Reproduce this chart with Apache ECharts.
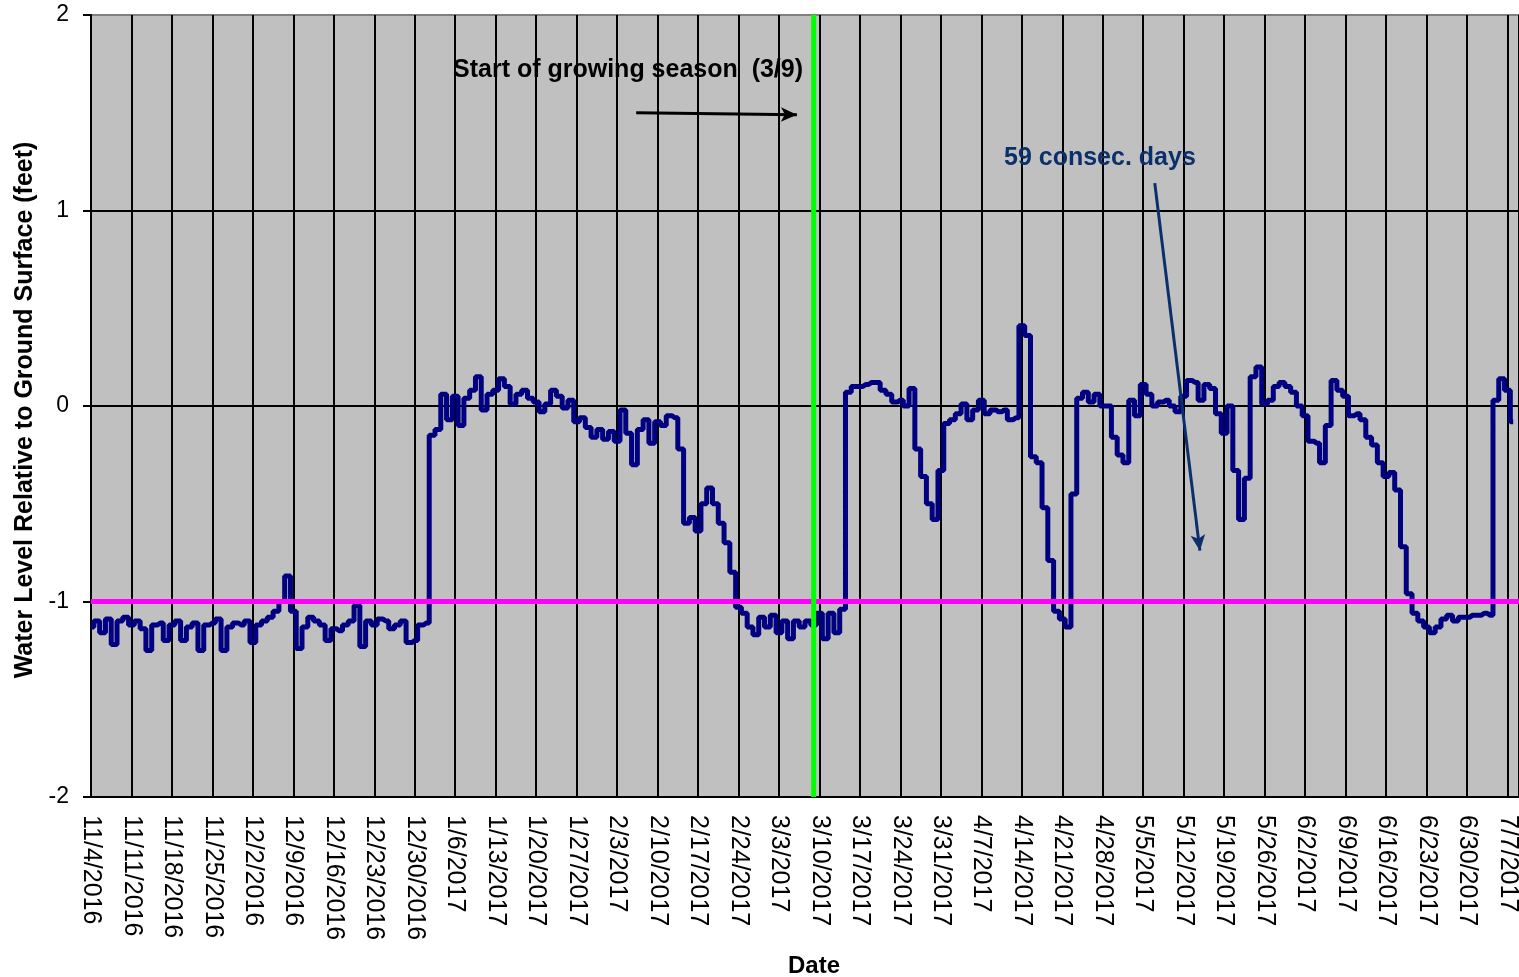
<!DOCTYPE html>
<html lang="en">
<head>
    <meta charset="UTF-8">
    <title>Water level chart</title>
    <style>
        html, body { margin: 0; padding: 0; background: #fff; }
        #main { width: 1519px; height: 977px; }
    </style>
</head>
<body>
<div id="main"></div>
<script src="https://cdn.jsdelivr.net/npm/echarts@6/dist/echarts.min.js"></script>
<script>
// x = days since 11/4/2016, one reading per day
var dateLabels = ['11/4/2016', '11/11/2016', '11/18/2016', '11/25/2016', '12/2/2016', '12/9/2016',
    '12/16/2016', '12/23/2016', '12/30/2016', '1/6/2017', '1/13/2017', '1/20/2017', '1/27/2017',
    '2/3/2017', '2/10/2017', '2/17/2017', '2/24/2017', '3/3/2017', '3/10/2017', '3/17/2017',
    '3/24/2017', '3/31/2017', '4/7/2017', '4/14/2017', '4/21/2017', '4/28/2017', '5/5/2017',
    '5/12/2017', '5/19/2017', '5/26/2017', '6/2/2017', '6/9/2017', '6/16/2017', '6/23/2017',
    '6/30/2017', '7/7/2017'];

var waterLevel = [
    -1.13, -1.10, -1.16, -1.09, -1.22, -1.10, -1.08,
    -1.12, -1.10, -1.14, -1.25, -1.12, -1.11, -1.20,
    -1.12, -1.10, -1.20, -1.13, -1.11, -1.25, -1.12,
    -1.11, -1.09, -1.25, -1.13, -1.11, -1.12, -1.10,
    -1.21, -1.12, -1.10, -1.08, -1.05, -1.00, -0.87,
    -1.05, -1.24, -1.13, -1.08, -1.10, -1.12, -1.20,
    -1.14, -1.15, -1.12, -1.10, -1.02, -1.23, -1.10,
    -1.12, -1.09, -1.10, -1.14, -1.12, -1.10, -1.21,
    -1.20, -1.12, -1.11, -0.15, -0.12, 0.06, -0.07,
    0.05, -0.10, 0.04, 0.08, 0.15, -0.02, 0.06,
    0.08, 0.14, 0.10, 0.01, 0.06, 0.08, 0.04,
    0.02, -0.03, 0.01, 0.08, 0.05, -0.01, 0.03,
    -0.08, -0.06, -0.11, -0.16, -0.12, -0.17, -0.13,
    -0.18, -0.02, -0.14, -0.30, -0.12, -0.07, -0.19,
    -0.08, -0.10, -0.05, -0.06, -0.22, -0.60, -0.57,
    -0.64, -0.50, -0.42, -0.50, -0.60, -0.70, -0.85,
    -1.03, -1.06, -1.13, -1.17, -1.08, -1.13, -1.07,
    -1.16, -1.10, -1.19, -1.10, -1.13, -1.10, -1.12,
    -1.06, -1.19, -1.06, -1.16, -1.04, 0.07, 0.10,
    0.10, 0.11, 0.12, 0.12, 0.08, 0.06, 0.02,
    0.03, 0.00, 0.09, -0.22, -0.36, -0.50, -0.58,
    -0.33, -0.09, -0.07, -0.04, 0.01, -0.07, -0.02,
    0.03, -0.04, -0.02, -0.03, -0.02, -0.07, -0.06,
    0.41, 0.36, -0.26, -0.29, -0.52, -0.79, -1.05,
    -1.09, -1.13, -0.45, 0.04, 0.07, 0.02, 0.06,
    0.00, 0.00, -0.16, -0.25, -0.29, 0.03, -0.05,
    0.11, 0.06, 0.00, 0.02, 0.03, 0.00, -0.03,
    0.05, 0.13, 0.12, 0.03, 0.11, 0.09, -0.04,
    -0.14, 0.00, -0.33, -0.58, -0.37, 0.15, 0.20,
    0.01, 0.03, 0.10, 0.12, 0.10, 0.07, 0.00,
    -0.05, -0.18, -0.19, -0.29, -0.10, 0.13, 0.08,
    0.05, -0.05, -0.04, -0.07, -0.16, -0.20, -0.29,
    -0.36, -0.34, -0.43, -0.72, -0.96, -1.06, -1.10,
    -1.13, -1.16, -1.13, -1.09, -1.07, -1.10, -1.08,
    -1.08, -1.07, -1.07, -1.06, -1.07, 0.03, 0.14,
    0.08, -0.08
];

var growingSeasonDay = 125;   // 3/9/2017
var thresholdLevel = -1;
var lastDay = 247;

var seasonArrow = [[94.3, 1.50], [122.1, 1.49]];
var daysArrow = [[184.0, 1.14], [191.8, -0.74]];

var font = '"Liberation Sans", Arial, sans-serif';

var chart = echarts.init(document.getElementById('main'));

var option = {
    animation: false,
    textStyle: { fontFamily: font },
    grid: {
        left: 91, right: 0, top: 15, bottom: 180,
        outerBoundsMode: 'none',
        show: true, backgroundColor: '#C0C0C0', borderWidth: 0
    },
    xAxis: {
        type: 'value',
        min: 0, max: lastDay, interval: 7,
        name: 'Date', nameLocation: 'middle', nameGap: 157,
        nameTextStyle: { fontSize: 24, fontWeight: 'bold', color: '#000', fontFamily: font, padding: [0, 0, 0, 18] },
        axisLine: { lineStyle: { color: '#000', width: 2 } },
        axisTick: { length: 8, lineStyle: { color: '#000', width: 2 } },
        splitLine: { show: true, lineStyle: { color: '#000', width: 2 } },
        axisLabel: {
            rotate: -90, margin: 18, fontSize: 25, color: '#000', fontFamily: font,
            formatter: function (v) {
                if (v % 7 !== 0) return '';
                return dateLabels[v / 7] || '';
            }
        }
    },
    yAxis: {
        type: 'value',
        min: -2, max: 2, interval: 1,
        name: 'Water Level Relative to Ground Surface (feet)',
        nameLocation: 'middle', nameGap: 53, nameRotate: 90,
        nameTextStyle: { fontSize: 25, fontWeight: 'bold', color: '#000', fontFamily: font, padding: [0, 8, 0, 0] },
        axisLine: { show: true, lineStyle: { color: '#000', width: 2 } },
        axisTick: { show: true, length: 8, lineStyle: { color: '#000', width: 2 } },
        splitLine: { show: true, lineStyle: { color: ['#000', '#000', '#000', '#000', '#808080'], width: 2 } },
        axisLabel: { margin: 22, fontSize: 23, color: '#000', fontFamily: font }
    },
    series: [
        {
            name: 'Water level',
            type: 'line',
            step: 'middle',
            data: waterLevel.map(function (v, i) { return [i, v]; }),
            showSymbol: false,
            lineStyle: { color: '#000080', width: 5 },
            z: 3,
            markLine: {
                silent: true,
                symbol: ['none', 'arrow'],
                symbolSize: [11, 16],
                label: { show: false },
                data: [
                    [{ coord: seasonArrow[0], lineStyle: { color: '#000', width: 3, type: 'solid' } },
                     { coord: seasonArrow[1] }],
                    [{ coord: daysArrow[0], lineStyle: { color: '#0B2F6B', width: 3, type: 'solid' } },
                     { coord: daysArrow[1] }]
                ]
            }
        },
        {
            name: 'Threshold',
            type: 'line',
            data: [[0, thresholdLevel], [lastDay, thresholdLevel]],
            showSymbol: false,
            lineStyle: { color: '#FF00FF', width: 5 },
            z: 4
        },
        {
            name: 'Growing season',
            type: 'line',
            data: [[growingSeasonDay, -2], [growingSeasonDay, 2]],
            showSymbol: false,
            lineStyle: { color: '#00FF00', width: 5 },
            z: 5
        }
    ],
    graphic: [
        {
            type: 'text', left: 453, top: 58, z: 10,
            style: { text: 'Start of growing season  (3/9)', font: 'bold 25px ' + font, fill: '#000' }
        },
        {
            type: 'text', left: 1004, top: 146, z: 10,
            style: { text: '59 consec. days', font: 'bold 25px ' + font, fill: '#0B2F6B' }
        }
    ]
};

chart.setOption(option);
</script>
</body>
</html>
